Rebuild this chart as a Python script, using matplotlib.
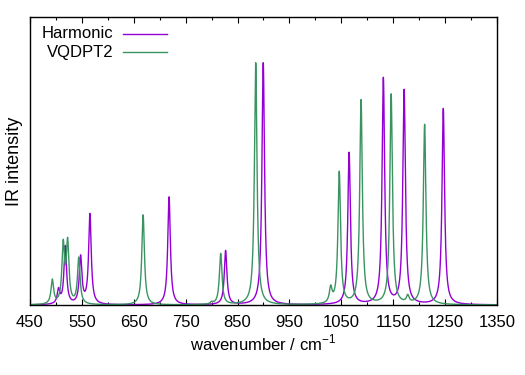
#!/usr/bin/env python3

import numpy as np
import matplotlib
matplotlib.use("Agg")
import matplotlib.pyplot as plt

# stick spectra (position in cm-1, peak height in arbitrary units)
harmonicPos = [505, 518, 547.5, 565.5, 718, 827, 899.5, 1065, 1131, 1171, 1246.5]
harmonicInt = [14, 58, 47, 90, 108, 54, 242, 152, 226, 214, 196]
vqdptPos = [493, 514, 522.5, 544, 668, 800, 817.5, 885, 1029.5, 1046, 1088, 1146, 1178, 1210.5]
vqdptInt = [24, 58, 60, 46, 90, 2, 51, 242, 15, 132, 204, 210, 7, 180]
hwhm = 3.0

xTicks = [450, 550, 650, 750, 850, 950, 1050, 1150, 1250, 1350]

def broaden(grid, positions, heights, gamma):
    spec = np.zeros_like(grid)
    for p, h in zip(positions, heights):
        spec += h * gamma**2 / ((grid - p)**2 + gamma**2)
    return spec

def main():
    plt.rcParams['font.family'] = ['Liberation Sans', 'DejaVu Sans']
    plt.rcParams['mathtext.fontset'] = 'custom'
    plt.rcParams['mathtext.rm'] = 'Liberation Sans'
    fig = plt.figure(figsize=(5.25, 3.75), dpi=100)
    ax = fig.add_axes([30/525, 70/375, 467/525, 288/375])

    grid = np.arange(450, 1350.01, 0.1)
    ax.plot(grid, broaden(grid, harmonicPos, harmonicInt, hwhm), color='#9400d3', lw=1.0)
    ax.plot(grid, broaden(grid, vqdptPos, vqdptInt, hwhm), color='#3a9462', lw=1.0)

    ax.set_xlim(450, 1350)
    ax.set_ylim(0, 288)
    ax.set_xticks(xTicks)
    ax.set_xticks([t + 50 for t in xTicks[:-1]], minor=True)
    ax.set_yticks([])
    ax.tick_params(axis='x', which='both', direction='in', top=True, labelsize=12, pad=7)
    ax.tick_params(axis='x', which='major', length=4.5, width=0.8)
    ax.tick_params(axis='x', which='minor', length=2.2, width=0.8)
    for s in ax.spines.values():
        s.set_linewidth(1.0)

    ax.set_xlabel("wavenumber / cm$^{\\mathrm{-1}}$", fontsize=12, labelpad=2)
    ax.set_ylabel("IR intensity", fontsize=13, labelpad=5)

    # key in gnuplot style: right aligned text, sample on the right
    keyLabels = ["Harmonic", "VQDPT2"]
    keyColors = ['#9400d3', '#3a9462']
    for i, (lab, col) in enumerate(zip(keyLabels, keyColors)):
        y = 0.941 - i * 0.063
        ax.text(0.178, y, lab, transform=ax.transAxes, ha='right', va='center', fontsize=12)
        ax.plot([0.199, 0.293], [y, y], transform=ax.transAxes, color=col, lw=1.0)

    fig.savefig("out.png", dpi=100)

if __name__ == "__main__":
    main()
